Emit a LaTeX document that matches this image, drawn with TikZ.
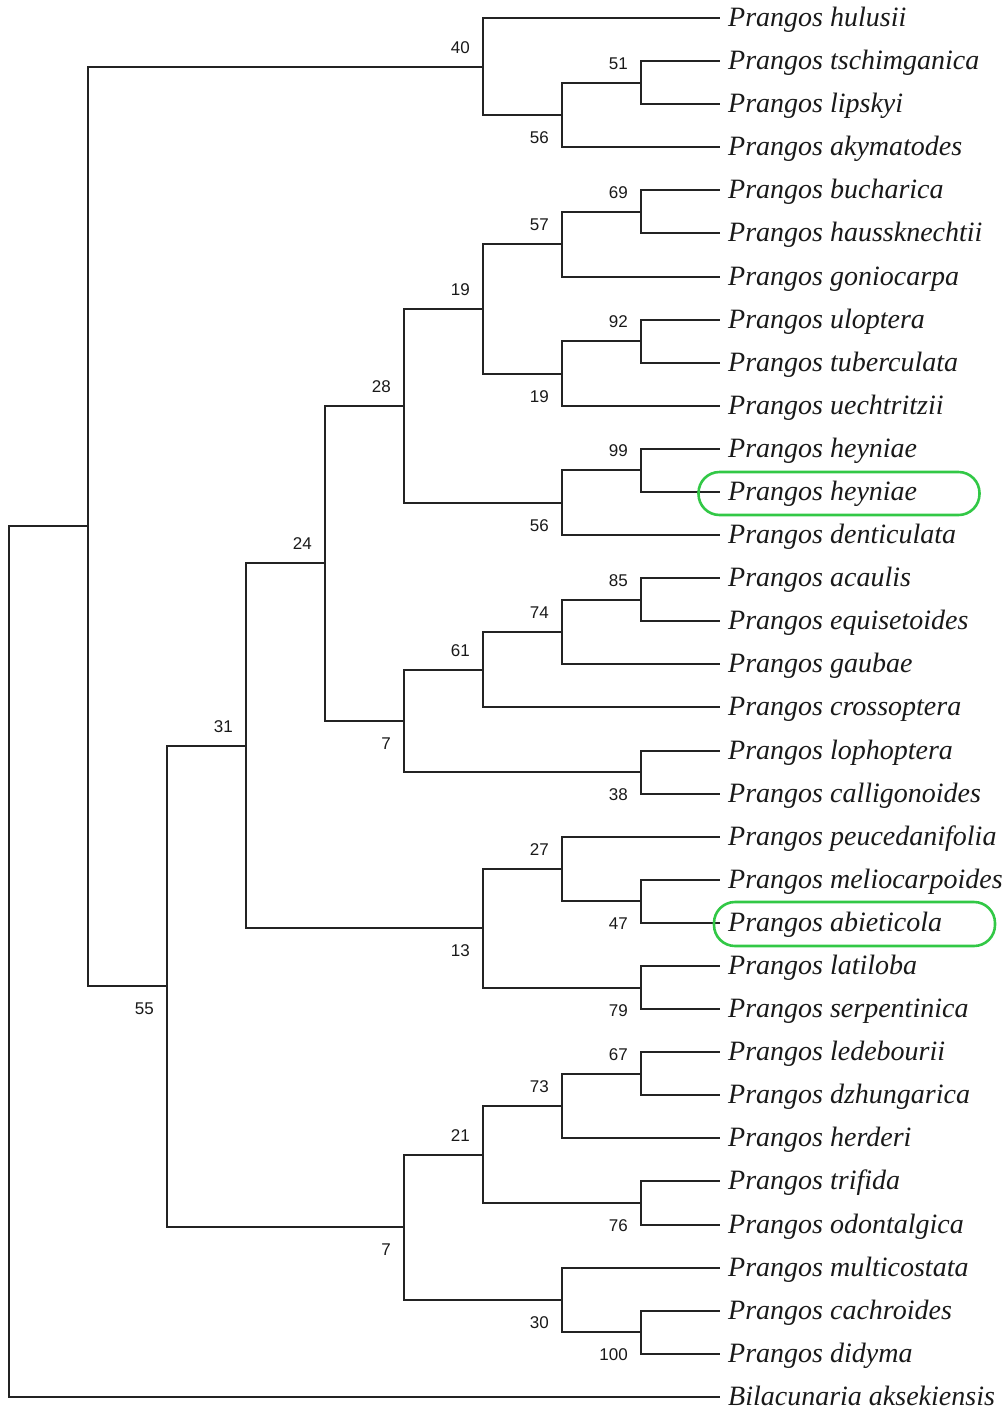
\documentclass[tikz,border=0pt]{standalone}
\usepackage{fontspec}
\setmainfont{Liberation Serif}
\newfontfamily\numfont{Liberation Sans}
\definecolor{hlgreen}{RGB}{50,200,70}
\definecolor{brc}{RGB}{35,35,35}
\begin{document}
\begin{tikzpicture}[x=1pt,y=-1pt,
  br/.style={line width=2pt, draw=brc},
  leaf/.style={anchor=west, inner xsep=8pt, inner ysep=0pt, text height=22pt, text depth=5pt,
    font=\fontsize{28}{30}\selectfont\itshape, text=black!90},
  bs/.style={anchor=east, inner sep=0pt, font=\numfont\fontsize{17}{19}\selectfont, text=black!90},
  lu/.style={bs, xshift=-13pt, yshift=19pt},
  ld/.style={bs, xshift=-13pt, yshift=-23pt},
  hl/.style={draw=hlgreen, line width=2.6pt, rounded corners=21pt},
]
\useasboundingbox (0,0) rectangle (1008,1414);

% leaves
\node[leaf] (l0)  at (720,18)   {Prangos hulusii};
\node[leaf] (l1)  at (720,61)   {Prangos tschimganica};
\node[leaf] (l2)  at (720,104)  {Prangos lipskyi};
\node[leaf] (l3)  at (720,147)  {Prangos akymatodes};
\node[leaf] (l4)  at (720,190)  {Prangos bucharica};
\node[leaf] (l5)  at (720,233)  {Prangos haussknechtii};
\node[leaf] (l6)  at (720,277)  {Prangos goniocarpa};
\node[leaf] (l7)  at (720,320)  {Prangos uloptera};
\node[leaf] (l8)  at (720,363)  {Prangos tuberculata};
\node[leaf] (l9)  at (720,406)  {Prangos uechtritzii};
\node[leaf] (l10) at (720,449)  {Prangos heyniae};
\node[leaf] (l11) at (720,492)  {Prangos heyniae};
\node[leaf] (l12) at (720,535)  {Prangos denticulata};
\node[leaf] (l13) at (720,578)  {Prangos acaulis};
\node[leaf] (l14) at (720,621)  {Prangos equisetoides};
\node[leaf] (l15) at (720,664)  {Prangos gaubae};
\node[leaf] (l16) at (720,707)  {Prangos crossoptera};
\node[leaf] (l17) at (720,751)  {Prangos lophoptera};
\node[leaf] (l18) at (720,794)  {Prangos calligonoides};
\node[leaf] (l19) at (720,837)  {Prangos peucedanifolia};
\node[leaf] (l20) at (720,880)  {Prangos meliocarpoides};
\node[leaf] (l21) at (720,923)  {Prangos abieticola};
\node[leaf] (l22) at (720,966)  {Prangos latiloba};
\node[leaf] (l23) at (720,1009) {Prangos serpentinica};
\node[leaf] (l24) at (720,1052) {Prangos ledebourii};
\node[leaf] (l25) at (720,1095) {Prangos dzhungarica};
\node[leaf] (l26) at (720,1138) {Prangos herderi};
\node[leaf] (l27) at (720,1181) {Prangos trifida};
\node[leaf] (l28) at (720,1225) {Prangos odontalgica};
\node[leaf] (l29) at (720,1268) {Prangos multicostata};
\node[leaf] (l30) at (720,1311) {Prangos cachroides};
\node[leaf] (l31) at (720,1354) {Prangos didyma};
\node[leaf] (l32) at (720,1397) {Bilacunaria aksekiensis};

% internal nodes
\coordinate (E)  at (641,83);
\coordinate (D)  at (562,115);
\coordinate (B)  at (483,67);
\coordinate (P)  at (641,212);
\coordinate (N)  at (562,244);
\coordinate (Q)  at (641,341);
\coordinate (O)  at (562,374);
\coordinate (L)  at (483,309);
\coordinate (R)  at (641,470);
\coordinate (M)  at (562,503);
\coordinate (J)  at (404,406);
\coordinate (V)  at (641,600);
\coordinate (U)  at (562,632);
\coordinate (S)  at (483,670);
\coordinate (T)  at (641,772);
\coordinate (K)  at (404,721);
\coordinate (H)  at (325,563);
\coordinate (Y)  at (641,901);
\coordinate (W)  at (562,869);
\coordinate (X)  at (641,988);
\coordinate (I)  at (483,928);
\coordinate (F)  at (246,746);
\coordinate (AD) at (641,1074);
\coordinate (AB) at (562,1106);
\coordinate (AC) at (641,1203);
\coordinate (Z)  at (483,1155);
\coordinate (AE) at (641,1332);
\coordinate (AA) at (562,1300);
\coordinate (G)  at (404,1227);
\coordinate (C)  at (167,986);
\coordinate (A)  at (88,526);
\coordinate (root) at (9,962);

% branches
\draw[br] (root) |- (A);   \draw[br] (root) |- (l32.west);
\draw[br] (A) |- (B);      \draw[br] (A) |- (C);
\draw[br] (B) |- (l0.west); \draw[br] (B) |- (D);
\draw[br] (D) |- (E);      \draw[br] (D) |- (l3.west);
\draw[br] (E) |- (l1.west); \draw[br] (E) |- (l2.west);
\draw[br] (C) |- (F);      \draw[br] (C) |- (G);
\draw[br] (F) |- (H);      \draw[br] (F) |- (I);
\draw[br] (H) |- (J);      \draw[br] (H) |- (K);
\draw[br] (J) |- (L);      \draw[br] (J) |- (M);
\draw[br] (L) |- (N);      \draw[br] (L) |- (O);
\draw[br] (N) |- (P);      \draw[br] (N) |- (l6.west);
\draw[br] (P) |- (l4.west); \draw[br] (P) |- (l5.west);
\draw[br] (O) |- (Q);      \draw[br] (O) |- (l9.west);
\draw[br] (Q) |- (l7.west); \draw[br] (Q) |- (l8.west);
\draw[br] (M) |- (R);      \draw[br] (M) |- (l12.west);
\draw[br] (R) |- (l10.west); \draw[br] (R) |- (l11.west);
\draw[br] (K) |- (S);      \draw[br] (K) |- (T);
\draw[br] (S) |- (U);      \draw[br] (S) |- (l16.west);
\draw[br] (U) |- (V);      \draw[br] (U) |- (l15.west);
\draw[br] (V) |- (l13.west); \draw[br] (V) |- (l14.west);
\draw[br] (T) |- (l17.west); \draw[br] (T) |- (l18.west);
\draw[br] (I) |- (W);      \draw[br] (I) |- (X);
\draw[br] (W) |- (l19.west); \draw[br] (W) |- (Y);
\draw[br] (Y) |- (l20.west); \draw[br] (Y) |- (l21.west);
\draw[br] (X) |- (l22.west); \draw[br] (X) |- (l23.west);
\draw[br] (G) |- (Z);      \draw[br] (G) |- (AA);
\draw[br] (Z) |- (AB);     \draw[br] (Z) |- (AC);
\draw[br] (AB) |- (AD);    \draw[br] (AB) |- (l26.west);
\draw[br] (AD) |- (l24.west); \draw[br] (AD) |- (l25.west);
\draw[br] (AC) |- (l27.west); \draw[br] (AC) |- (l28.west);
\draw[br] (AA) |- (l29.west); \draw[br] (AA) |- (AE);
\draw[br] (AE) |- (l30.west); \draw[br] (AE) |- (l31.west);

% bootstrap values
\node[lu] (bB)  at (B)  {40};
\node[lu] (bE)  at (E)  {51};
\node[ld] (bD)  at (D)  {56};
\node[lu] (bP)  at (P)  {69};
\node[lu] (bN)  at (N)  {57};
\node[lu] (bL)  at (L)  {19};
\node[ld] (bO)  at (O)  {19};
\node[lu] (bQ)  at (Q)  {92};
\node[ld] (bM)  at (M)  {56};
\node[lu] (bJ)  at (J)  {28};
\node[lu] (bR)  at (R)  {99};
\node[lu] (bH)  at (H)  {24};
\node[ld] (bK)  at (K)  {7};
\node[lu] (bS)  at (S)  {61};
\node[lu] (bU)  at (U)  {74};
\node[lu] (bV)  at (V)  {85};
\node[ld] (bT)  at (T)  {38};
\node[lu] (bF)  at (F)  {31};
\node[ld] (bI)  at (I)  {13};
\node[lu] (bW)  at (W)  {27};
\node[ld] (bY)  at (Y)  {47};
\node[ld] (bX)  at (X)  {79};
\node[ld] (bC)  at (C)  {55};
\node[lu] (bZ)  at (Z)  {21};
\node[lu] (bAB) at (AB) {73};
\node[lu] (bAD) at (AD) {67};
\node[ld] (bAC) at (AC) {76};
\node[ld] (bG)  at (G)  {7};
\node[ld] (bAA) at (AA) {30};
\node[ld] (bAE) at (AE) {100};

% highlights
\node[hl, minimum width=281pt, minimum height=43pt] (hl1) at (839,493.5) {};
\node[hl, minimum width=281pt, minimum height=44pt] (hl2) at (854.5,924) {};
\end{tikzpicture}
\end{document}
